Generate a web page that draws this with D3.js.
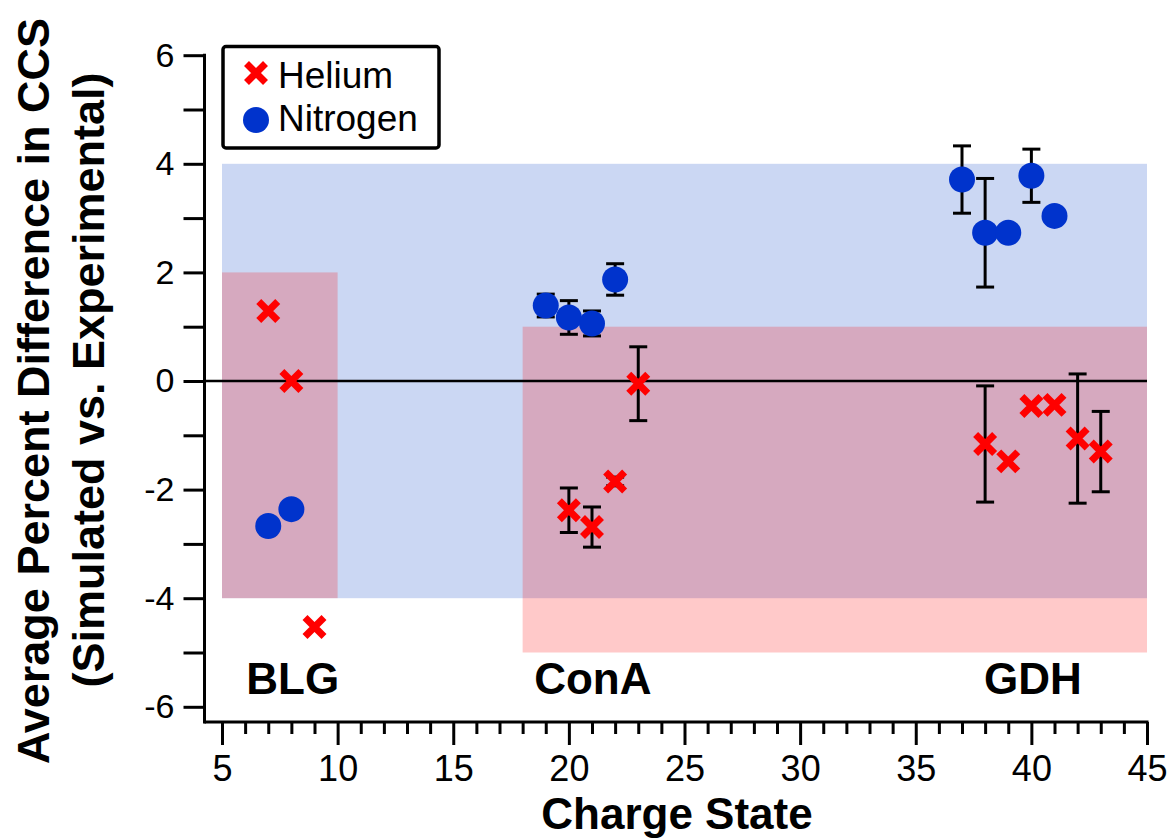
<!DOCTYPE html>
<html>
<head>
<meta charset="utf-8">
<script src="https://cdn.jsdelivr.net/npm/d3@7"></script>
<style>
  html, body { margin: 0; padding: 0; background: #ffffff; }
  svg { display: block; }
  text { font-family: "Liberation Sans", Arial, Helvetica, sans-serif; fill: #000; }
</style>
</head>
<body>
<svg id="chart" width="1172" height="839"></svg>
<script>
// ---- data ----
const heliumX   = [7, 8, 9, 20, 21, 22, 23, 38, 39, 40, 41, 42, 43];
const heliumY   = [1.29, 0.0, -4.53, -2.38, -2.69, -1.85, -0.05, -1.16, -1.48, -0.46, -0.44, -1.06, -1.30];
const heliumErr = [0, 0, 0, 0.41, 0.37, 0.08, 0.68, 1.07, 0, 0, 0, 1.19, 0.74];

const nitrogenX   = [7, 8, 19, 20, 21, 22, 37, 38, 39, 40, 41];
const nitrogenY   = [-2.67, -2.36, 1.39, 1.17, 1.06, 1.87, 3.71, 2.73, 2.73, 3.78, 3.04];
const nitrogenErr = [0, 0, 0.21, 0.31, 0.23, 0.29, 0.62, 1.0, 0, 0.49, 0];

// shaded ranges: [x0, x1, yTop, yBottom]
const nitrogenBand = [[5, 45, 4, -4]];
const heliumBands  = [[5, 10, 2, -4], [18, 45, 1, -5]];

// protein labels: name, x (charge), y (value)
const proteinNames = ["BLG", "ConA", "GDH"];
const proteinX     = [6.05, 18.5, 37.95];
const proteinY     = [-5.76, -5.76, -5.76];

const xTicksMajor = [5, 10, 15, 20, 25, 30, 35, 40, 45];
const xTicksMinor = d3.range(5, 46, 1);
const yTicks      = d3.range(-6, 7, 1);
const yTickLabels = [-6, -4, -2, 0, 2, 4, 6];

const legendNames = ["Helium", "Nitrogen"];

// ---- layout ----
const svg = d3.select("#chart");
const x = d3.scaleLinear().domain([5, 45]).range([222, 1147]);
const y = d3.scaleLinear().domain([-6, 6]).range([706.8, 55.2]);
const axisX = 204.5, axisY = 722;

const BLUE = "#0033cc", RED = "#ff0000";

// bands
svg.append("g").selectAll("rect").data(nitrogenBand).join("rect")
  .attr("x", d => x(d[0])).attr("width", d => x(d[1]) - x(d[0]))
  .attr("y", d => y(d[2])).attr("height", d => y(d[3]) - y(d[2]))
  .attr("fill", "#cbd7f3");
svg.append("g").selectAll("rect").data(heliumBands).join("rect")
  .attr("x", d => x(d[0])).attr("width", d => x(d[1]) - x(d[0]))
  .attr("y", d => y(d[2])).attr("height", d => y(d[3]) - y(d[2]))
  .attr("fill", "rgba(255,0,0,0.21)");

// zero line
svg.append("line")
  .attr("x1", axisX).attr("x2", x(45)).attr("y1", y(0)).attr("y2", y(0))
  .attr("stroke", "#000").attr("stroke-width", 2.5);

// axes
const fmt = d => (d < 0 ? "-" + Math.abs(d) : String(d));
const yAxis = d3.axisLeft(y).tickValues(yTicks).tickSize(21).tickPadding(9)
  .tickFormat(d => yTickLabels.includes(d) ? fmt(d) : "");
const gy = svg.append("g").attr("transform", `translate(${axisX},0)`).call(yAxis);
gy.select(".domain").remove();
gy.selectAll("line").attr("stroke", "#000").attr("stroke-width", 3);
gy.selectAll("text").style("font-size", "34px").attr("font-family", null);
gy.append("line").attr("x1", 0).attr("x2", 0).attr("y1", y(6) - 1.5).attr("y2", axisY + 1.5)
  .attr("stroke", "#000").attr("stroke-width", 3);

const xMinor = d3.axisBottom(x).tickValues(xTicksMinor.filter(v => v % 5 !== 0)).tickSize(12).tickFormat("");
const gxm = svg.append("g").attr("transform", `translate(0,${axisY})`).call(xMinor);
gxm.select(".domain").remove();
gxm.selectAll("line").attr("stroke", "#000").attr("stroke-width", 3);

const xMajor = d3.axisBottom(x).tickValues(xTicksMajor).tickSize(23).tickPadding(10.5).tickFormat(d => String(d));
const gx = svg.append("g").attr("transform", `translate(0,${axisY})`).call(xMajor);
gx.select(".domain").remove();
gx.selectAll("line").attr("stroke", "#000").attr("stroke-width", 3);
gx.selectAll("text").style("font-size", "36px").attr("font-family", null);
gx.append("line").attr("x1", axisX).attr("x2", x(45) + 1.5).attr("y1", 0).attr("y2", 0)
  .attr("stroke", "#000").attr("stroke-width", 3);

// axis titles
svg.append("text")
  .attr("transform", `translate(49,391) rotate(-90)`)
  .attr("text-anchor", "middle").style("font-size", "45px").style("font-weight", "bold")
  .text("Average Percent Difference in CCS");
svg.append("text")
  .attr("transform", `translate(104,380) rotate(-90)`)
  .attr("text-anchor", "middle").style("font-size", "45px").style("font-weight", "bold")
  .text("(Simulated vs. Experimental)");
svg.append("text")
  .attr("x", 677).attr("y", 829)
  .attr("text-anchor", "middle").style("font-size", "44px").style("font-weight", "bold")
  .text("Charge State");

// protein labels
svg.append("g").selectAll("text").data(proteinNames).join("text")
  .attr("x", (d, i) => x(proteinX[i])).attr("y", (d, i) => y(proteinY[i]))
  .style("font-size", "44px").style("font-weight", "bold")
  .text(d => d);

// error bars
function errorBars(xs, ys, es) {
  const idx = d3.range(xs.length).filter(i => es[i] > 0);
  const g = svg.append("g").attr("stroke", "#000").attr("stroke-width", 3);
  idx.forEach(i => {
    const cx = x(xs[i]), top = y(ys[i] + es[i]), bot = y(ys[i] - es[i]);
    g.append("line").attr("x1", cx).attr("x2", cx).attr("y1", top).attr("y2", bot);
    g.append("line").attr("x1", cx - 9).attr("x2", cx + 9).attr("y1", top).attr("y2", top);
    g.append("line").attr("x1", cx - 9).attr("x2", cx + 9).attr("y1", bot).attr("y2", bot);
  });
}
errorBars(nitrogenX, nitrogenY, nitrogenErr);
errorBars(heliumX, heliumY, heliumErr);

// markers
const cross = s => `M${-s},${-s}L${s},${s}M${-s},${s}L${s},${-s}`;
svg.append("g").selectAll("circle").data(d3.range(nitrogenX.length)).join("circle")
  .attr("cx", i => x(nitrogenX[i])).attr("cy", i => y(nitrogenY[i])).attr("r", 13)
  .attr("fill", BLUE);
svg.append("g").selectAll("path").data(d3.range(heliumX.length)).join("path")
  .attr("transform", i => `translate(${x(heliumX[i])},${y(heliumY[i])})`)
  .attr("d", cross(9.5)).attr("stroke", RED).attr("stroke-width", 7).attr("fill", "none");

// legend
const lg = svg.append("g");
lg.append("rect").attr("x", 223).attr("y", 46.5).attr("width", 216).attr("height", 101.5)
  .attr("rx", 3).attr("fill", "#fff").attr("stroke", "#000").attr("stroke-width", 3.5);
lg.append("path").attr("transform", "translate(256,73)").attr("d", cross(9.5))
  .attr("stroke", RED).attr("stroke-width", 7).attr("fill", "none");
lg.append("circle").attr("cx", 256).attr("cy", 120).attr("r", 13).attr("fill", BLUE);
lg.selectAll("text.leg").data(legendNames).join("text").attr("class", "leg")
  .attr("x", 278).attr("y", (d, i) => 88 + i * 43)
  .style("font-size", "37px").text(d => d);
</script>
</body>
</html>
